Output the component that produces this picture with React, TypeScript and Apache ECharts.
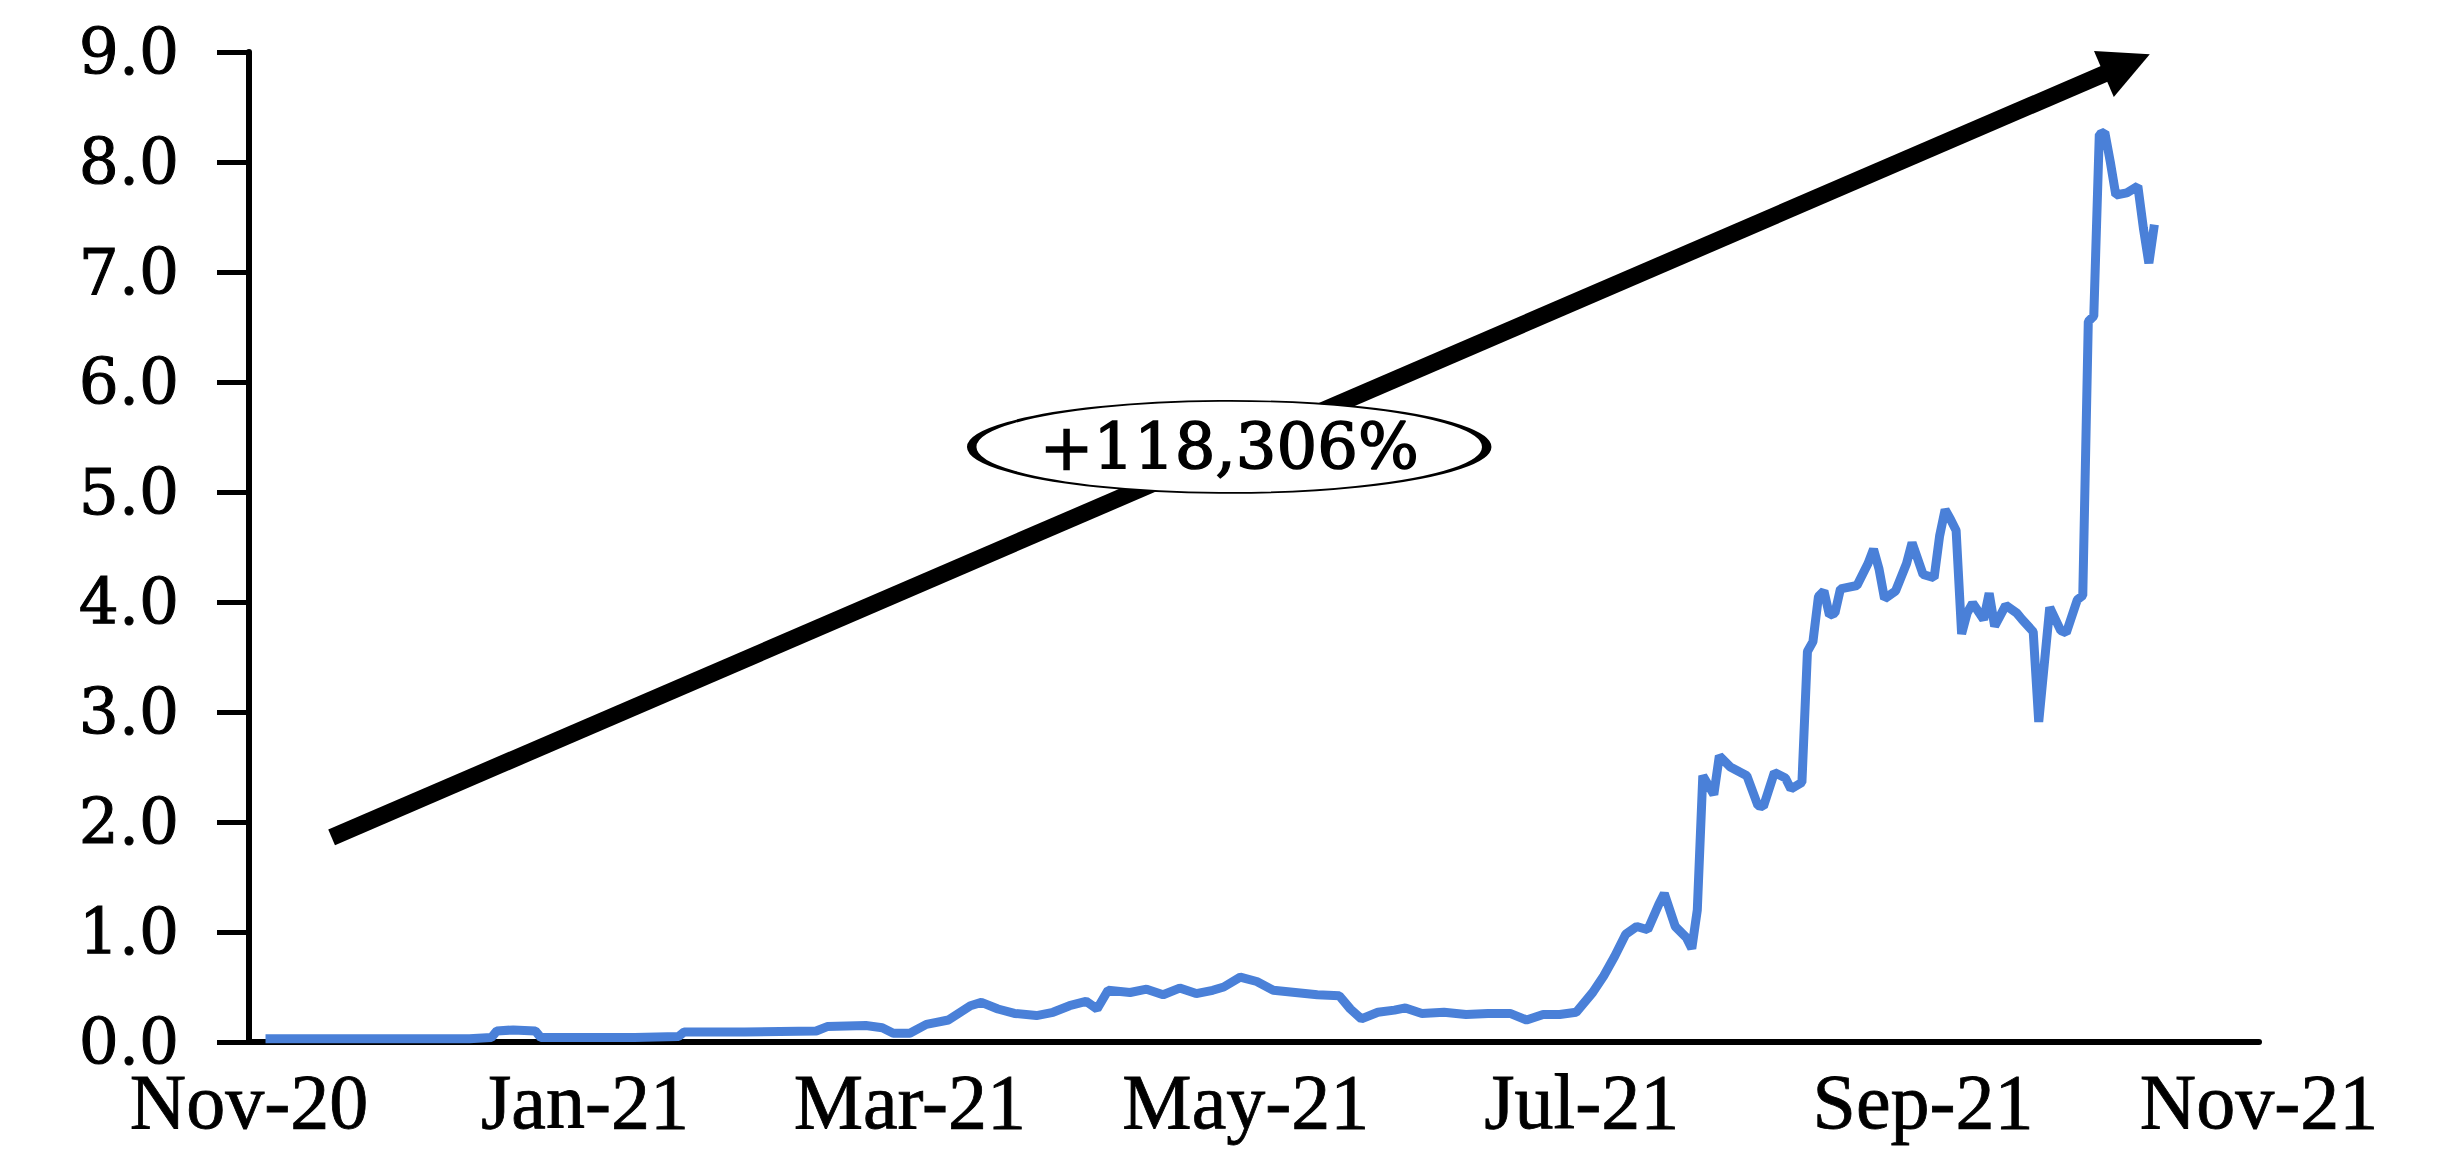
import React, { useEffect, useRef } from "react";
import * as echarts from "echarts";

// ---- data ----
const dates: string[] = [
  "2020-11-04","2020-11-11","2020-11-21","2020-12-01","2020-12-11","2020-12-15","2020-12-16","2020-12-19","2020-12-23","2020-12-24",
  "2020-12-31","2021-01-10","2021-01-18","2021-01-19","2021-01-30","2021-02-12","2021-02-14","2021-02-21","2021-02-24","2021-02-26",
  "2021-03-01","2021-03-04","2021-03-08","2021-03-12","2021-03-14","2021-03-17","2021-03-20","2021-03-24","2021-03-27","2021-03-30",
  "2021-04-02","2021-04-04","2021-04-06","2021-04-10","2021-04-13","2021-04-16","2021-04-19","2021-04-22","2021-04-25","2021-04-27",
  "2021-04-30","2021-05-03","2021-05-06","2021-05-10","2021-05-14","2021-05-18","2021-05-20","2021-05-22","2021-05-25","2021-05-28",
  "2021-05-30","2021-06-02","2021-06-06","2021-06-10","2021-06-14","2021-06-18","2021-06-21","2021-06-24","2021-06-27","2021-06-30",
  "2021-07-03","2021-07-05","2021-07-07","2021-07-09","2021-07-11","2021-07-13","2021-07-15","2021-07-16","2021-07-18","2021-07-20",
  "2021-07-21","2021-07-22","2021-07-23","2021-07-25","2021-07-26","2021-07-28","2021-07-31","2021-08-02","2021-08-03","2021-08-05",
  "2021-08-07","2021-08-08","2021-08-10","2021-08-11","2021-08-12","2021-08-13","2021-08-14","2021-08-15","2021-08-16","2021-08-17",
  "2021-08-20","2021-08-22","2021-08-23","2021-08-24","2021-08-25","2021-08-27","2021-08-29","2021-08-30","2021-09-01","2021-09-03",
  "2021-09-04","2021-09-05","2021-09-06","2021-09-07","2021-09-08","2021-09-09","2021-09-10","2021-09-12","2021-09-13","2021-09-14",
  "2021-09-16","2021-09-18","2021-09-19","2021-09-21","2021-09-22","2021-09-24","2021-09-26","2021-09-27","2021-09-29","2021-09-30",
  "2021-10-01","2021-10-02","2021-10-03","2021-10-04","2021-10-05","2021-10-06","2021-10-08","2021-10-10","2021-10-11","2021-10-12",
  "2021-10-13"
];
const values: number[] = [
  0.03,0.03,0.03,0.03,0.03,0.04,0.10,0.11,0.10,0.04,
  0.04,0.04,0.05,0.09,0.09,0.10,0.14,0.15,0.13,0.08,
  0.08,0.16,0.20,0.33,0.36,0.30,0.26,0.24,0.27,0.33,
  0.37,0.30,0.47,0.45,0.48,0.43,0.49,0.44,0.47,0.50,
  0.59,0.55,0.47,0.45,0.43,0.42,0.30,0.21,0.27,0.29,
  0.31,0.26,0.27,0.25,0.26,0.26,0.20,0.25,0.25,0.27,
  0.45,0.60,0.78,0.98,1.05,1.02,1.25,1.35,1.05,0.95,
  0.85,1.20,2.42,2.25,2.60,2.50,2.42,2.15,2.14,2.45,
  2.40,2.30,2.36,3.55,3.64,4.05,4.10,3.88,3.90,4.12,
  4.15,4.35,4.48,4.30,4.03,4.10,4.35,4.54,4.25,4.22,
  4.60,4.84,4.75,4.65,3.71,3.90,3.99,3.84,4.08,3.78,
  3.97,3.90,3.84,3.73,2.91,3.95,3.74,3.72,4.02,4.06,
  6.55,6.60,8.25,8.27,8.00,7.70,7.72,7.78,7.40,7.08,
  7.43
];
const xTickDates: string[] = ["2020-11-01","2021-01-01","2021-03-01","2021-05-01","2021-07-01","2021-09-01","2021-11-01"];
const xTickLabels: string[] = ["Nov-20","Jan-21","Mar-21","May-21","Jul-21","Sep-21","Nov-21"];
const yTicks: number[] = [0,1,2,3,4,5,6,7,8,9];
const arrowStart: [string, number] = ["2020-11-16", 1.86];
const arrowEnd: [string, number] = ["2021-10-08", 8.89];
const annotationPos: [string, number] = ["2021-04-28", 5.41];
const annotationText = "+118,306%";

const ts = (s: string) => Date.UTC(+s.slice(0, 4), +s.slice(5, 7) - 1, +s.slice(8, 10));

export default function App() {
  const ref = useRef<HTMLDivElement>(null);
  useEffect(() => {
    if (!ref.current) return;
    const chart = echarts.init(ref.current, null, { renderer: "svg" });
    const tickTs = xTickDates.map(ts);
    const option: any = {
      animation: false,
      backgroundColor: "#ffffff",
      grid: { left: 249, right: 193, top: 52, bottom: 116, containLabel: false },
      xAxis: {
        type: "value",
        min: tickTs[0],
        max: tickTs[tickTs.length - 1],
        splitLine: { show: false },
        axisLine: { show: true, lineStyle: { color: "#000", width: 6 } },
        axisTick: { show: false },
        axisLabel: {
          customValues: tickTs,
          showMinLabel: true,
          showMaxLabel: true,
          margin: 28,
          lineHeight: 62,
          color: "#000",
          fontFamily: "Liberation Serif",
          fontSize: 78,
          textBorderColor: "#000",
          textBorderWidth: 0.8,
          formatter: (v: number) => {
            const i = tickTs.indexOf(v);
            return i >= 0 ? xTickLabels[i] : "";
          },
        },
      },
      yAxis: {
        type: "value",
        min: yTicks[0],
        max: yTicks[yTicks.length - 1],
        interval: 1,
        splitLine: { show: false },
        axisLine: { show: true, lineStyle: { color: "#000", width: 6 } },
        axisTick: { show: true, inside: false, length: 32, lineStyle: { color: "#000", width: 5 } },
        axisLabel: {
          margin: 70,
          lineHeight: 44,
          color: "#000",
          fontFamily: "DejaVu Serif",
          fontSize: 63,
          textBorderColor: "#000",
          textBorderWidth: 1,
          formatter: (v: number) => v.toFixed(1),
        },
      },
      series: [
        {
          type: "line",
          data: dates.map((d, i) => [ts(d), values[i]]),
          showSymbol: false,
          lineStyle: { color: "#4a80d8", width: 9 },
          z: 2,
          markLine: {
            silent: true,
            symbol: ["none", "triangle"],
            symbolSize: 50,
            label: { show: false },
            lineStyle: { color: "#000", width: 17, type: "solid" },
            emphasis: { disabled: true },
            data: [[
              { coord: [ts(arrowStart[0]), arrowStart[1]] },
              { coord: [ts(arrowEnd[0]), arrowEnd[1]] },
            ]],
          },
        },
        {
          type: "scatter",
          data: [[ts(annotationPos[0]), annotationPos[1]]],
          symbol: "circle",
          symbolSize: [515, 92],
          z: 10,
          silent: true,
          itemStyle: { color: "#ffffff", borderColor: "#000", borderWidth: 4, opacity: 1 },
          label: {
            show: true,
            position: "inside",
            formatter: annotationText,
            color: "#000",
            fontFamily: "DejaVu Serif",
            fontSize: 64,
            textBorderColor: "#000",
            textBorderWidth: 1.5,
          },
        },
      ],
    };
    chart.setOption(option);
    return () => chart.dispose();
  }, []);
  return (
    <div
      ref={ref}
      style={{ position: "fixed", left: 0, top: 0, width: 2452, height: 1158, background: "#fff" }}
    />
  );
}
